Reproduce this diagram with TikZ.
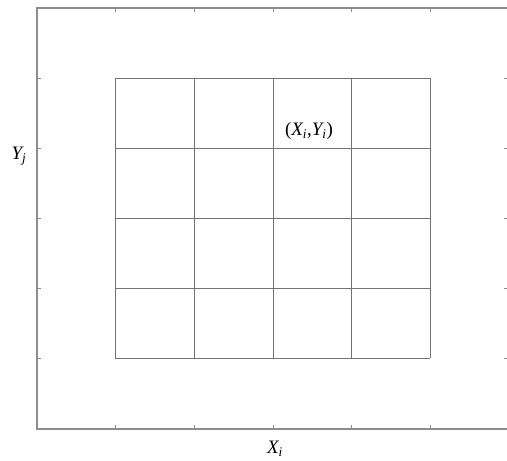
\documentclass[tikz,border=0pt]{standalone}
\usepackage{fontspec}
\setmainfont{Liberation Serif}
\begin{document}
\begin{tikzpicture}[x=1pt,y=-1pt,
  frame/.style={draw=black!45,line width=1.2pt},
  gridline/.style={draw=black!55,line width=0.9pt},
  tickmark/.style={draw=black!45,line width=0.9pt},
  lbl/.style={font=\fontsize{19}{22}\selectfont\itshape,inner sep=1pt}]
\useasboundingbox (0,0) rectangle (507,461);
\clip (0,0) rectangle (507,461);
% frame
\draw[frame] (509,8) -- (37,8) -- (37,429) -- (509,429);
\draw[frame] (509,8) -- (509,429);
% ticks
\foreach \x in {115,194,273,351,430}{
  \draw[tickmark] (\x,8) -- (\x,12);
  \draw[tickmark] (\x,429) -- (\x,425);
}
\foreach \y in {78,148,218,288,358}{
  \draw[tickmark] (37,\y) -- (41,\y);
  \draw[tickmark] (509,\y) -- (504,\y);
}
% grid
\foreach \x in {115,194,273,351,430}{
  \draw[gridline] (\x,78) -- (\x,358);
}
\foreach \y in {78,148,218,288,358}{
  \draw[gridline] (115,\y) -- (430,\y);
}
% labels
\node[lbl] (pt) at (309,131) {{\upshape(}X\textsubscript{i}{\upshape,}Y\textsubscript{i}{\upshape)}};
\node[lbl] (yj) at (19,156) {Y\textsubscript{j}};
\node[lbl] (xi) at (275,449) {X\textsubscript{i}};
\end{tikzpicture}
\end{document}
